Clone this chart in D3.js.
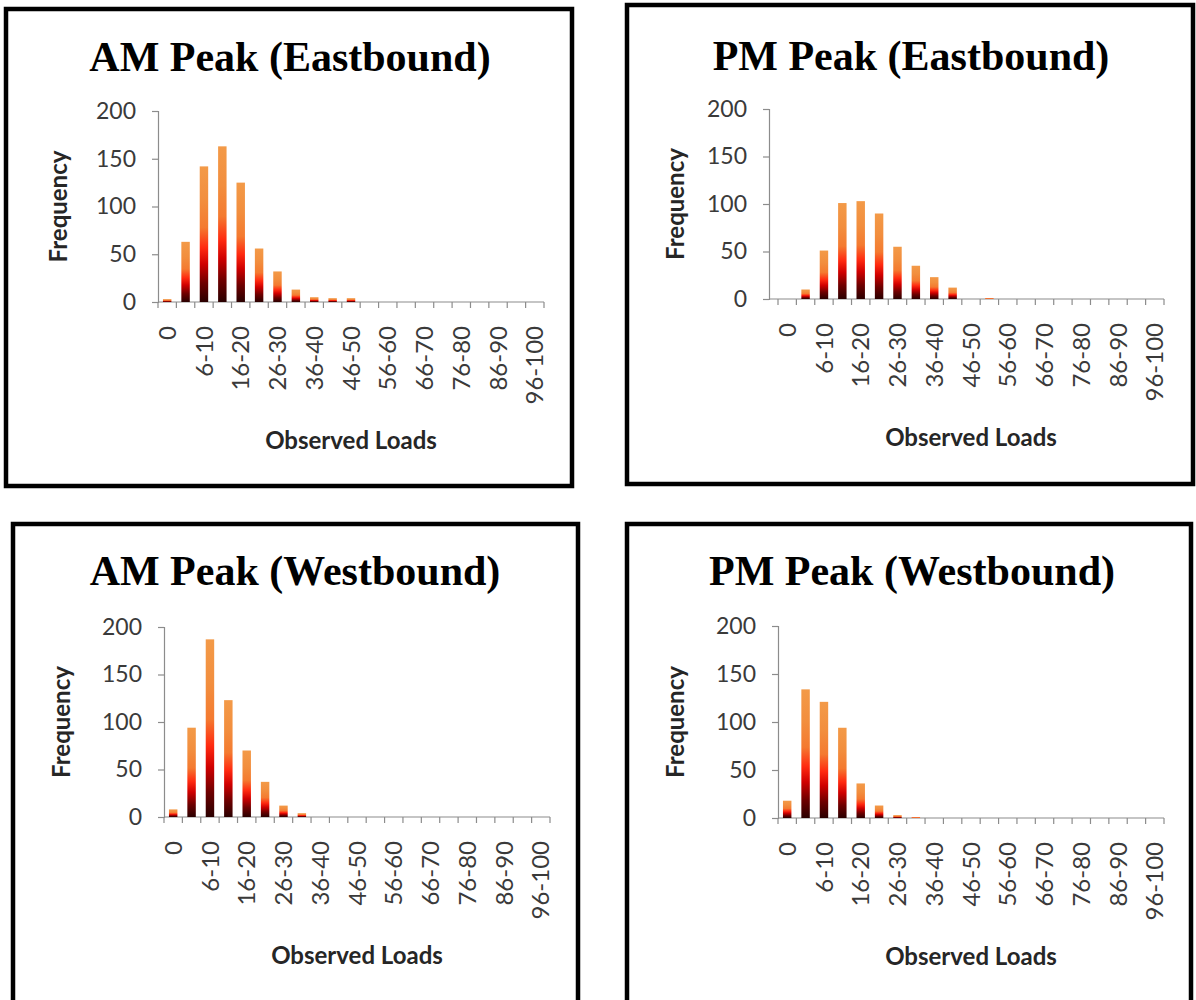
<!DOCTYPE html>
<html>
<head>
<meta charset="utf-8">
<script src="https://cdn.jsdelivr.net/npm/d3@7"></script>
<style>
  html, body { margin: 0; padding: 0; background: #fff; }
  svg { display: block; }
</style>
</head>
<body>
<script>
// ---------- DATA ----------
const categories = ["0","1-5","6-10","11-15","16-20","21-25","26-30","31-35","36-40","41-45",
  "46-50","51-55","56-60","61-65","66-70","71-75","76-80","81-85","86-90","91-95","96-100"];
const xTickLabels = ["0","6-10","16-20","26-30","36-40","46-50","56-60","66-70","76-80","86-90","96-100"];
const yTicks = [0, 50, 100, 150, 200];

const amEastbound = [3, 63, 142, 163, 125, 56, 32, 13, 5, 4, 4, 0, 0, 0, 0, 0, 0, 0, 0, 0, 0];
const pmEastbound = [0, 10, 51, 101, 103, 90, 55, 35, 23, 12, 0, 1, 0, 0, 0, 0, 0, 0, 0, 0, 0];
const amWestbound = [8, 94, 187, 123, 70, 37, 12, 4, 0, 0, 0, 0, 0, 0, 0, 0, 0, 0, 0, 0, 0];
const pmWestbound = [18, 134, 121, 94, 36, 13, 3, 1, 0, 0, 0, 0, 0, 0, 0, 0, 0, 0, 0, 0, 0];

const titles = ["AM Peak (Eastbound)", "PM Peak (Eastbound)", "AM Peak (Westbound)", "PM Peak (Westbound)"];
const seriesList = [amEastbound, pmEastbound, amWestbound, pmWestbound];
const yTitle = "Frequency";
const xTitle = "Observed Loads";

// ---------- LAYOUT ----------
const panels = [
  { frame: [6, 9, 566, 477],  axisX: 158, x0: 158, x1: 544,  yTop: 111, yBase: 302, titleX: 290, titleY: 71,  yTitleX: 67 },
  { frame: [627, 5, 566, 479], axisX: 769, x0: 778, x1: 1164, yTop: 109, yBase: 299, titleX: 911, titleY: 70,  yTitleX: 684 },
  { frame: [13, 524, 565, 500], axisX: 164, x0: 164, x1: 550, yTop: 627, yBase: 817, titleX: 295, titleY: 585, yTitleX: 70 },
  { frame: [627, 524, 564, 500], axisX: 778, x0: 778, x1: 1164, yTop: 626, yBase: 818, titleX: 912, titleY: 585, yTitleX: 684 }
];

const W = 1196, H = 1000;
const svg = d3.select("body").append("svg").attr("width", W).attr("height", H);

const defs = svg.append("defs");
const grad = defs.append("linearGradient").attr("id", "fire")
  .attr("x1", 0).attr("y1", 1).attr("x2", 0).attr("y2", 0);
[[0, "#2a0000"], [0.14, "#6e0000"], [0.28, "#d00000"], [0.4, "#ff2a10"], [0.55, "#f47a30"], [0.75, "#f28e3e"], [1, "#f39a48"]]
  .forEach(([o, c]) => grad.append("stop").attr("offset", o).attr("stop-color", c));

const axisColor = "#8c8c8c";
const labelColor = "#3a3a3a";

panels.forEach((p, i) => {
  const data = seriesList[i];
  const g = svg.append("g");

  // frame
  g.append("rect")
    .attr("x", p.frame[0]).attr("y", p.frame[1])
    .attr("width", p.frame[2]).attr("height", p.frame[3])
    .attr("fill", "#fff").attr("stroke", "#000").attr("stroke-width", 4.5);

  // title
  g.append("text")
    .attr("x", p.titleX).attr("y", p.titleY)
    .attr("text-anchor", "middle")
    .attr("font-family", "'Liberation Serif', 'Times New Roman', serif")
    .attr("font-weight", "bold").attr("font-size", 42)
    .attr("fill", "#000")
    .text(titles[i]);

  const y = d3.scaleLinear().domain([0, 200]).range([p.yBase, p.yTop]);
  const xb = d3.scaleBand().domain(categories).range([p.x0, p.x1]).paddingInner(0.54).paddingOuter(0.27);
  const xEdge = d3.scaleLinear().domain([0, categories.length]).range([p.x0, p.x1]);

  // y axis
  const yAx = g.append("g").attr("transform", `translate(${p.axisX},0)`)
    .call(d3.axisLeft(y).tickValues(yTicks).tickSize(6).tickPadding(16).tickFormat(d3.format("d")));
  yAx.select(".domain").attr("stroke", axisColor).attr("stroke-width", 1.2);
  yAx.selectAll(".tick line").attr("stroke", axisColor).attr("stroke-width", 1.2);
  yAx.selectAll(".tick text")
    .attr("font-family", "Lato, 'Open Sans', sans-serif").attr("font-size", 23)
    .attr("fill", labelColor);

  // x axis baseline
  g.append("line")
    .attr("x1", p.axisX).attr("x2", p.x1)
    .attr("y1", p.yBase).attr("y2", p.yBase)
    .attr("stroke", axisColor).attr("stroke-width", 1.2);
  g.selectAll(".xtick").data(d3.range(categories.length + 1)).join("line")
    .attr("x1", d => xEdge(d)).attr("x2", d => xEdge(d))
    .attr("y1", p.yBase).attr("y2", p.yBase + 6)
    .attr("stroke", axisColor).attr("stroke-width", 1.2);

  // bars
  g.selectAll(".bar").data(categories.map((c, k) => ({ c, v: data[k] })).filter(d => d.v > 0)).join("rect")
    .attr("x", d => xb(d.c)).attr("width", xb.bandwidth())
    .attr("y", d => y(d.v)).attr("height", d => y(0) - y(d.v))
    .attr("fill", "url(#fire)");

  // x tick labels
  g.selectAll(".xlab").data(xTickLabels).join("text")
    .attr("transform", d => `translate(${xb(d) + xb.bandwidth() / 2},${p.yBase + 24}) rotate(-90)`)
    .attr("text-anchor", "end").attr("dy", "0.36em")
    .attr("font-family", "Lato, 'Open Sans', sans-serif").attr("font-size", 24)
    .attr("fill", labelColor)
    .text(d => d);

  // axis titles
  g.append("text")
    .attr("transform", `translate(${p.yTitleX},${(p.yTop + p.yBase) / 2}) rotate(-90)`)
    .attr("text-anchor", "middle")
    .attr("font-family", "Lato, 'Open Sans', sans-serif").attr("font-weight", "bold").attr("font-size", 24)
    .attr("fill", "#262626")
    .text(yTitle);

  g.append("text")
    .attr("x", (p.x0 + p.x1) / 2).attr("y", p.yBase + 147)
    .attr("text-anchor", "middle")
    .attr("font-family", "Lato, 'Open Sans', sans-serif").attr("font-weight", "bold").attr("font-size", 24)
    .attr("fill", "#262626")
    .text(xTitle);
});
</script>
</body>
</html>
